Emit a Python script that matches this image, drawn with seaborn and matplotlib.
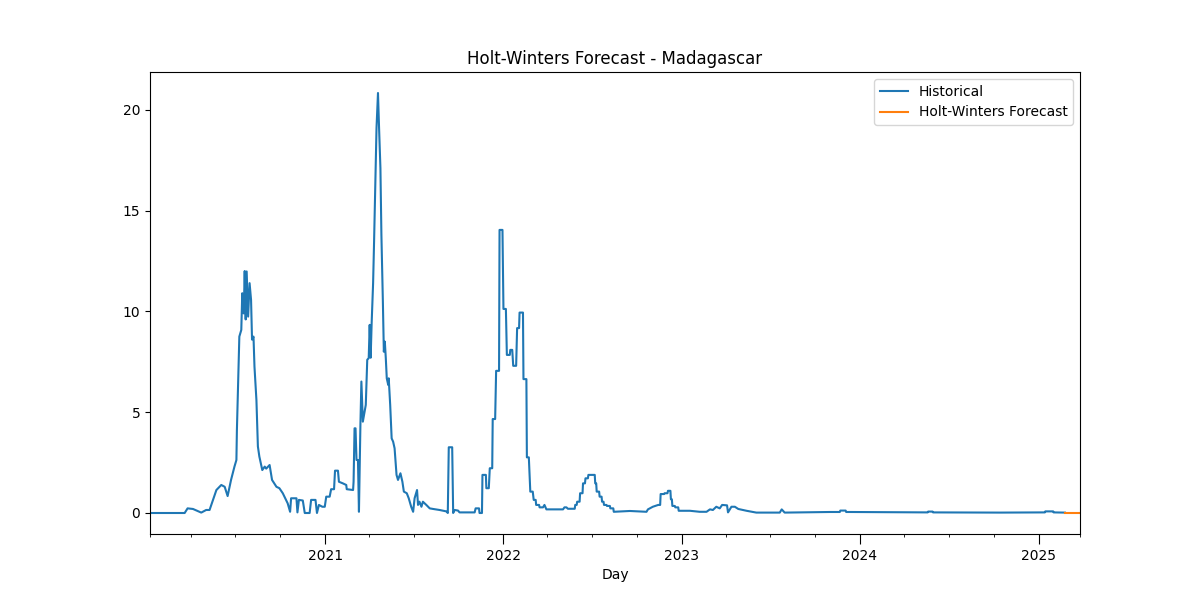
import numpy as np
import pandas as pd
import matplotlib
matplotlib.use("Agg")
import matplotlib.pyplot as plt
import matplotlib.dates as mdates
import seaborn as sns

# days counted from 2020-01-01
start = pd.Timestamp("2020-01-01")

hist_day = [
    7, 78, 84, 95, 112, 122, 129, 136, 143, 153,
    160, 166, 173, 180, 184, 185, 187, 190, 194, 196,
    199, 201, 203, 205, 208, 211, 214, 216, 219, 221,
    225, 228, 231, 237, 242, 245, 252, 257, 266, 272,
    279, 289, 294, 296, 307, 309, 312, 320, 324, 334,
    337, 346, 349, 353, 360, 365, 368, 375, 378, 384,
    386, 392, 394, 402, 409, 410, 423, 424, 426, 428,
    430, 433, 435, 438, 440, 443, 449, 452, 455, 457,
    459, 461, 464, 466, 471, 474, 476, 479, 481, 484,
    486, 488, 490, 492, 495, 496, 499, 502, 505, 508,
    512, 515, 520, 524, 527, 533, 537, 542, 546, 549,
    554, 556, 559, 563, 566, 573, 580, 587, 600, 614,
    617, 619, 626, 628, 631, 638, 641, 672, 674, 681,
    682, 687, 688, 695, 696, 701, 703, 708, 709, 714,
    716, 722, 723, 729, 731, 736, 738, 744, 745, 749,
    751, 757, 759, 763, 764, 771, 772, 778, 779, 783,
    786, 791, 793, 797, 798, 804, 805, 812, 815, 819,
    853, 856, 860, 863, 877, 878, 881, 882, 887, 888,
    893, 894, 898, 899, 904, 905, 918, 919, 921, 922,
    927, 928, 932, 933, 936, 937, 942, 943, 949, 950,
    956, 957, 990, 1024, 1027, 1037, 1048, 1052, 1053, 1060,
    1061, 1067, 1068, 1073, 1074, 1076, 1077, 1082, 1083, 1089,
    1090, 1113, 1133, 1147, 1154, 1160, 1167, 1174, 1179, 1189,
    1191, 1198, 1205, 1212, 1229, 1249, 1297, 1301, 1307, 1338,
    1400, 1420, 1421, 1432, 1433, 1441, 1600, 1601, 1610, 1611,
    1748, 1840, 1841, 1857, 1858, 1881,
]
hist_value = [
    0, 0, 0.23, 0.2, 0.02, 0.15, 0.15, 0.65, 1.14, 1.39,
    1.3, 0.84, 1.64, 2.3, 2.63, 4.1, 5.9, 8.75, 9.08, 10.9,
    9.9, 12.0, 9.6, 11.98, 9.74, 11.4, 10.57, 8.6, 8.75, 7.26,
    5.6, 3.3, 2.8, 2.13, 2.3, 2.2, 2.38, 1.64, 1.3, 1.23,
    0.98, 0.48, 0.06, 0.73, 0.73, 0.03, 0.65, 0.62, 0, 0,
    0.65, 0.65, 0, 0.4, 0.31, 0.31, 0.81, 0.81, 1.18, 1.18,
    2.1, 2.1, 1.55, 1.47, 1.39, 1.18, 1.14, 1.55, 4.2, 4.2,
    2.63, 2.63, 0.06, 4.37, 6.52, 4.53, 5.36, 7.6, 7.68, 9.33,
    7.7, 9.4, 11.4, 13.46, 19.1, 20.83, 19.26, 17.1, 13.8, 10.5,
    8.0, 8.5, 7.68, 6.68, 6.35, 6.68, 5.36, 3.7, 3.54, 3.21,
    1.89, 1.64, 1.97, 1.55, 1.06, 0.98, 0.73, 0.31, 0.06, 0.73,
    1.14, 0.4, 0.56, 0.31, 0.56, 0.4, 0.23, 0.2, 0.15, 0.08,
    0.0, 3.26, 3.26, 0.0, 0.15, 0.12, 0.03, 0.03, 0.23, 0.23,
    0.0, 0.0, 1.89, 1.89, 1.23, 1.23, 2.22, 2.22, 4.66, 4.66,
    7.05, 7.05, 14.04, 14.04, 10.12, 10.12, 7.84, 7.84, 8.09, 8.09,
    7.3, 7.3, 9.17, 9.17, 9.94, 9.94, 6.64, 6.64, 2.76, 2.76,
    1.06, 1.06, 0.65, 0.65, 0.4, 0.4, 0.28, 0.28, 0.4, 0.18,
    0.18, 0.28, 0.28, 0.21, 0.21, 0.4, 0.4, 0.56, 0.56, 0.98,
    0.98, 1.47, 1.47, 1.72, 1.72, 1.89, 1.89, 1.47, 1.47, 1.06,
    1.06, 0.81, 0.81, 0.56, 0.56, 0.4, 0.4, 0.35, 0.35, 0.23,
    0.23, 0.06, 0.1, 0.06, 0.18, 0.31, 0.4, 0.4, 0.94, 0.94,
    0.98, 0.98, 1.1, 1.1, 0.68, 0.68, 0.35, 0.35, 0.28, 0.28,
    0.11, 0.11, 0.06, 0.06, 0.18, 0.15, 0.31, 0.23, 0.4, 0.38,
    0.03, 0.31, 0.31, 0.2, 0.11, 0.02, 0.02, 0.18, 0.02, 0.03,
    0.05, 0.05, 0.12, 0.12, 0.05, 0.05, 0.03, 0.07, 0.07, 0.03,
    0.02, 0.03, 0.08, 0.08, 0.03, 0.02,
]

fc_day = [1881, 1890, 1898, 1905, 1912]
fc_value = [0.02, 0.02, 0.02, 0.02, 0.02]

hist = pd.DataFrame({
    "date": start + pd.to_timedelta(hist_day, unit="D"),
    "value": hist_value,
})
fc = pd.DataFrame({
    "date": start + pd.to_timedelta(fc_day, unit="D"),
    "value": fc_value,
})

fig, ax = plt.subplots(figsize=(12, 6))
sns.lineplot(data=hist, x="date", y="value", ax=ax, color="#1f77b4",
             label="Historical", estimator=None, sort=False)
sns.lineplot(data=fc, x="date", y="value", ax=ax, color="#ff7f0e",
             label="Holt-Winters Forecast", estimator=None, sort=False)

x0, x1 = hist["date"].min(), fc["date"].max()
ax.set_xlim(x0, x1)

ax.xaxis.set_major_locator(mdates.YearLocator())
ax.xaxis.set_major_formatter(mdates.DateFormatter("%Y"))
quarters = pd.date_range("2020-01-01", x1, freq="QS")
quarters = [q for q in quarters if q > x0 and q.month != 1]
minor = [x0] + quarters + [x1]
ax.set_xticks(mdates.date2num(minor), minor=True)
ax.tick_params(axis="x", which="major", length=7)

ax.set_title("Holt-Winters Forecast - Madagascar")
ax.set_xlabel("Day")
ax.set_ylabel("")
ax.legend(loc="upper right")

plt.savefig("out.png", dpi=100)
